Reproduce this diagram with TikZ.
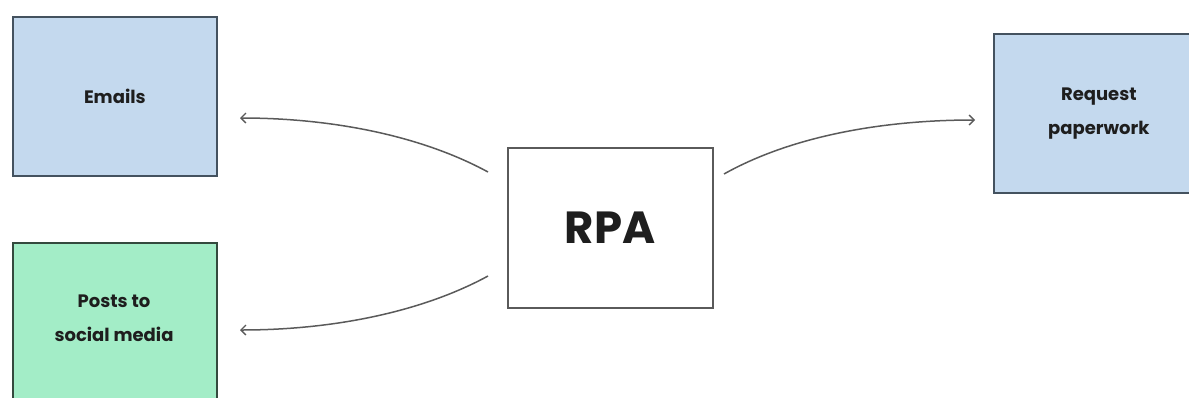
\documentclass[tikz,border=0pt]{standalone}
\usepackage{fontspec}
\setmainfont{Poppins}
\usetikzlibrary{arrows.meta}
\definecolor{bluefill}{HTML}{C4D9EE}
\definecolor{blueline}{HTML}{44525F}
\definecolor{greenfill}{HTML}{A3EDC7}
\definecolor{greenline}{HTML}{344A3E}
\definecolor{greyline}{HTML}{5A5A5A}
\definecolor{textcol}{HTML}{1E1E1E}
\tikzset{
  card/.style={draw, line width=1.7pt, minimum width=204pt, minimum height=159pt,
    anchor=north west, inner sep=0pt, align=center, text=textcol,
    font=\fontsize{18}{34}\selectfont\bfseries},
  bluecard/.style={card, fill=bluefill, draw=blueline},
  greencard/.style={card, fill=greenfill, draw=greenline},
  rpabox/.style={card, fill=white, draw=greyline, line width=1.5pt,
    font=\fontsize{45}{45}\selectfont\bfseries},
  link/.style={draw=greyline, line width=1.5pt,
    -{Straight Barb[length=5pt,width=10pt,line width=1.3pt]}}
}
\begin{document}
\begin{tikzpicture}[x=1pt,y=-1pt]
  \useasboundingbox (0,0) rectangle (1189,397);
  % boxes
  \node[bluecard] (emails) at (12,16) {Emails};
  \node[greencard, minimum height=170pt] (posts) at (12,242) {};
  \node[align=center, text=textcol, font=\fontsize{18}{34}\selectfont\bfseries]
    (poststext) at (114,318) {Posts to\\social media};
  \node[rpabox, minimum width=205pt, minimum height=160pt] (rpa) at (507,147) {RPA};
  \node[bluecard, minimum width=210pt] (request) at (993,33) {Request\\paperwork};
  % connector ends
  \coordinate (a1s) at (488,172);
  \coordinate (a1e) at (240,118);
  \coordinate (a2s) at (488,276);
  \coordinate (a2e) at (240,330);
  \coordinate (a3s) at (724,174);
  \coordinate (a3e) at (975,120);
  % connectors
  \draw[link] (a1s) .. controls (420,135) and (330,118) .. (a1e);
  \draw[link] (a2s) .. controls (420,313) and (330,330) .. (a2e);
  \draw[link] (a3s) .. controls (790,137) and (880,120) .. (a3e);
\end{tikzpicture}
\end{document}
